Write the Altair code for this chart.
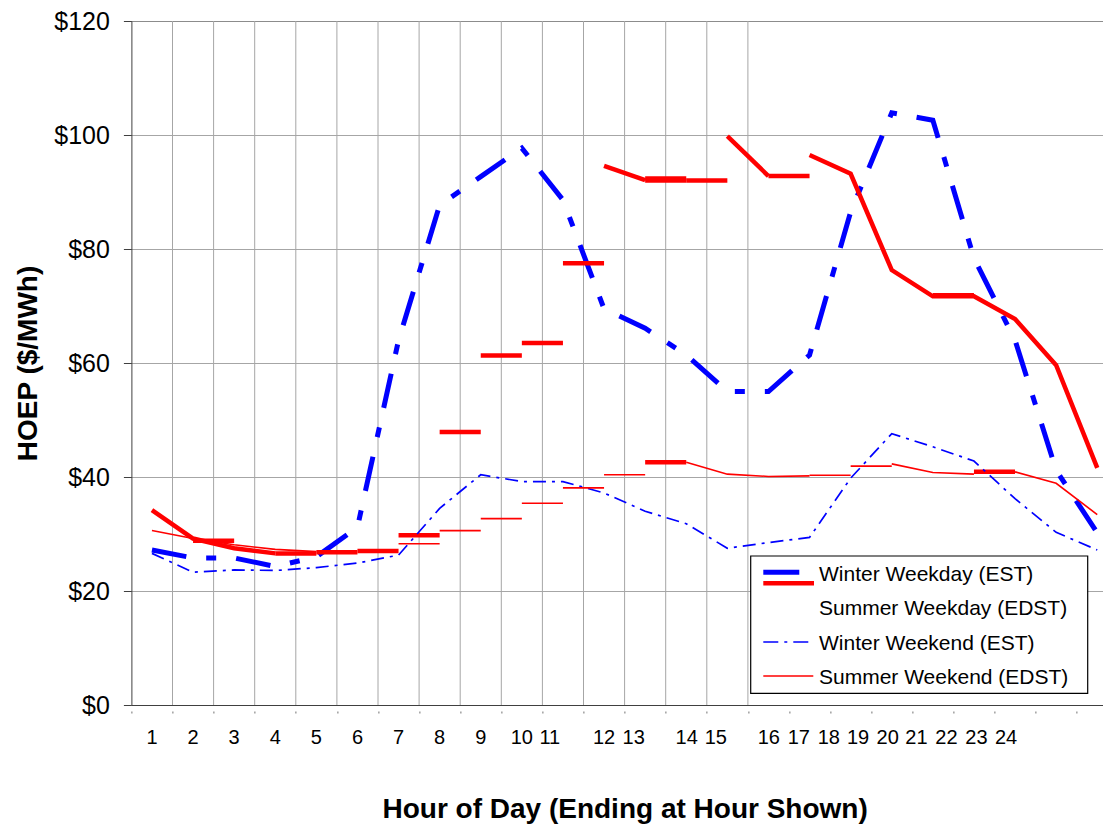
import altair as alt
import pandas as pd

FONT = "Liberation Sans"
BLUE = "#0000ff"
RED = "#ff0000"
GRID = "#a6a6a6"
AXIS = "#404040"

# ---------------- data ----------------
hours = list(range(1, 25))
winter_weekday = [27.2, 25.8, 25.8, 24.3, 26.0, 31.2, 64.0, 87.7, 92.7, 97.7, 88.6, 69.5,
                  66.1, 61.4, 55.0, 55.0, 61.4, 86.5, 103.9, 102.6, 78.4, 64.0, 41.2, 30.2]
winter_weekend = [26.6, 23.3, 23.7, 23.6, 24.1, 24.9, 26.3, 34.5, 40.4, 39.2, 39.2, 37.2,
                  34.0, 31.8, 27.5, 28.5, 29.4, 39.8, 47.6, 45.3, 42.8, 36.2, 30.3, 27.2]

# Summer weekday: connected runs + one-hour flat pieces (as drawn in the source chart)
sw_run_hours = [[1, 2, 3, 4], [12, 13], [15, 16], [17, 18, 19, 20, 21, 22, 23, 24]]
sw_run_values = [[34.2, 29.2, 27.5, 26.6], [94.6, 92.1], [99.8, 92.8],
                 [96.5, 93.2, 76.3, 71.7, 71.7, 67.7, 59.6, 41.6]]
sw_flat_start = [2, 4, 5, 6, 7, 8, 9, 10, 11, 13, 13, 14, 16, 20, 13, 21]
sw_flat_value = [28.8, 26.6, 26.8, 27.0, 29.8, 47.9, 61.3, 63.5, 77.5, 92.0, 92.35, 92.0,
                 92.8, 71.9, 42.6, 40.9]

# Summer weekend: connected runs + one-hour flat pieces
se_run_hours = [[1, 2, 3, 4, 5], [14, 15, 16, 17], [19, 20, 21], [22, 23, 24]]
se_run_values = [[30.6, 29.2, 28.1, 27.3, 26.9], [42.6, 40.5, 40.1, 40.2],
                 [42.3, 40.8, 40.5], [40.9, 38.9, 33.4]]
se_flat_start = [7, 8, 9, 10, 11, 12, 17, 18]
se_flat_value = [28.3, 30.6, 32.7, 35.4, 38.1, 40.4, 40.3, 41.9]

tick_labels = [str(h) for h in hours]
tick_label_pos = [1, 2, 3, 4, 5, 6, 7, 8, 9, 10, 10.68, 12.0, 12.72, 14.01, 14.72,
                  16.01, 16.74, 17.47, 18.18, 18.9, 19.6, 20.33, 21.06, 21.78]
boundary_pos = [k + 0.5 for k in range(0, 24)]
grid_pos = [k + 0.5 for k in range(1, 16)]
y_ticks = [0, 20, 40, 60, 80, 100, 120]

legend_labels = ["Winter Weekday (EST)", "Summer Weekday (EDST)",
                 "Winter Weekend (EST)", "Summer Weekend (EDST)"]

# ---------------- helpers ----------------
def runs_df(hl, vl):
    rows = []
    for i, (hs, vs) in enumerate(zip(hl, vl)):
        for h, v in zip(hs, vs):
            rows.append({"run": i, "hour": h, "value": v})
    return pd.DataFrame(rows)


def flats_df(starts, vals):
    return pd.DataFrame({"x1": starts, "x2": [s + 1 for s in starts], "value": vals})


STEP = 41.1                 # px per hour
W, H = 971.6, 684           # plot area (the source chart is cut off at the right)
X_END = 0.5 + W / STEP
FULL_W = 24 * STEP          # width of the whole 24-hour category axis
xs = alt.Scale(domain=[0.5, X_END], nice=False, zero=False)
ys = alt.Scale(domain=[0, 120], nice=False, zero=True)

x_axis = alt.Axis(values=boundary_pos, grid=False, domain=False, ticks=True, tickSize=2,
                  tickColor="#707070", tickWidth=1, offset=6, labels=False,
                  title="Hour of Day (Ending at Hour Shown)", titleFont=FONT,
                  titleFontSize=28, titleFontWeight="bold", titleColor="black",
                  titleX=FULL_W / 2, titleY=106, titleBaseline="alphabetic",
                  titleAlign="center")

y_axis = alt.Axis(values=y_ticks, grid=True,
                  gridColor={"condition": [{"test": "datum.value === 0", "value": AXIS},
                                           {"test": "datum.value === 120", "value": "#8c8c8c"}],
                             "value": GRID},
                  gridWidth=1, domain=True, domainColor=AXIS, domainWidth=1, ticks=True,
                  tickSize=8, tickColor=AXIS, labelExpr="'$' + datum.value", labelFont=FONT,
                  labelFontSize=25, labelColor="black", labelPadding=14,
                  title="HOEP ($/MWh)", titleFont=FONT, titleFontSize=28,
                  titleFontWeight="bold", titleColor="black", titleX=-103, titleY=H / 2,
                  titleBaseline="middle", titleAlign="center", titleAngle=270)


def X(field):
    return alt.X(field, scale=xs, axis=x_axis)


def Y(field):
    return alt.Y(field, scale=ys, axis=y_axis)


vgrid = alt.Chart(pd.DataFrame({"g": grid_pos})).mark_rule(color=GRID, strokeWidth=1).encode(
    x=X("g:Q"))

ww = alt.Chart(pd.DataFrame({"hour": hours, "value": winter_weekday})).mark_line(
    color=BLUE, strokeWidth=5, strokeDash=[35, 20, 10, 20], strokeCap="butt").encode(
    x=X("hour:Q"), y=Y("value:Q"))

sw_runs = alt.Chart(runs_df(sw_run_hours, sw_run_values)).mark_line(
    color=RED, strokeWidth=4.5).encode(x=X("hour:Q"), y=Y("value:Q"), detail="run:N")
sw_flats = alt.Chart(flats_df(sw_flat_start, sw_flat_value)).mark_rule(
    color=RED, strokeWidth=4.5, strokeCap="butt").encode(
    x=X("x1:Q"), x2="x2:Q", y=Y("value:Q"))

we = alt.Chart(pd.DataFrame({"hour": hours, "value": winter_weekend})).mark_line(
    color=BLUE, strokeWidth=1.7, strokeDash=[13, 6, 3, 6], strokeCap="butt").encode(
    x=X("hour:Q"), y=Y("value:Q"))

se_runs = alt.Chart(runs_df(se_run_hours, se_run_values)).mark_line(
    color=RED, strokeWidth=1.6).encode(x=X("hour:Q"), y=Y("value:Q"), detail="run:N")
se_flats = alt.Chart(flats_df(se_flat_start, se_flat_value)).mark_rule(
    color=RED, strokeWidth=1.6, strokeCap="butt").encode(
    x=X("x1:Q"), x2="x2:Q", y=Y("value:Q"))

xlabels = alt.Chart(pd.DataFrame({"pos": tick_label_pos, "txt": tick_labels})).mark_text(
    font=FONT, fontSize=20, color="black", align="center", baseline="alphabetic").encode(
    x=X("pos:Q"), y=alt.value(H + 39.3), text="txt:N")

# ---------------- legend ----------------
one = pd.DataFrame({"a": [0]})
LX, LY = 619.3, 535.0
LW, LH = 337.0, 137.3
ROW = 34.4
legend_layers = [
    alt.Chart(one).mark_rect(fill="white", stroke="black", strokeWidth=1.2).encode(
        x=alt.value(LX), x2=alt.value(LX + LW), y=alt.value(LY), y2=alt.value(LY + LH)),
    alt.Chart(one).mark_rule(color=BLUE, strokeWidth=5, strokeCap="butt").encode(
        x=alt.value(LX + 12.6), x2=alt.value(LX + 48.6), y=alt.value(LY + 16.3)),
    alt.Chart(one).mark_rule(color=RED, strokeWidth=4.5, strokeCap="butt").encode(
        x=alt.value(LX + 12.6), x2=alt.value(LX + 63.3), y=alt.value(LY + 27.3)),
    alt.Chart(one).mark_rule(color=BLUE, strokeWidth=1.7, strokeDash=[15, 6, 3, 6],
                             strokeCap="butt").encode(
        x=alt.value(LX + 12.6), x2=alt.value(LX + 62.6), y=alt.value(LY + 86)),
    alt.Chart(one).mark_rule(color=RED, strokeWidth=1.6, strokeCap="butt").encode(
        x=alt.value(LX + 12.6), x2=alt.value(LX + 62.6), y=alt.value(LY + 120)),
]
for i, lab in enumerate(legend_labels):
    legend_layers.append(
        alt.Chart(one).mark_text(font=FONT, fontSize=21, color="black", align="left",
                                 baseline="alphabetic").encode(
            x=alt.value(LX + 68.3), y=alt.value(LY + 24.7 + i * ROW), text=alt.value(lab)))

chart = alt.layer(vgrid, ww, sw_runs, sw_flats, we, se_runs, se_flats, xlabels,
                  *legend_layers).properties(
    width=W, height=H,
    padding={"left": 123.4, "top": 13, "right": 0, "bottom": 119},
    autosize=alt.AutoSizeParams(type="none"),
    background="white",
).configure_view(stroke="transparent")

chart.save("out.html", embed_options={"renderer": "svg", "actions": False})
